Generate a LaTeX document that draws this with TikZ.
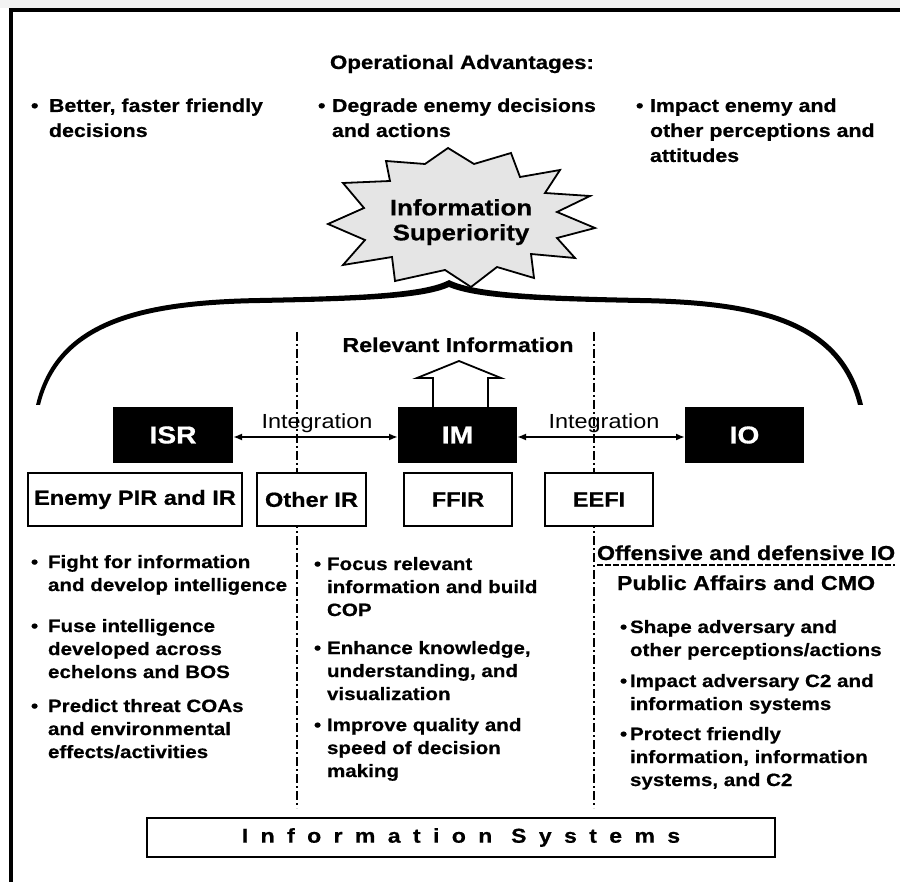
\documentclass[tikz,border=0pt]{standalone}
\usepackage{fontspec}
\setmainfont{Liberation Sans}[FakeStretch=1.15,BoldFeatures={FakeBold=0.6}]
\newfontfamily\spacedfont{Liberation Sans}[FakeStretch=1.15,LetterSpace=62,BoldFeatures={FakeBold=0.6}]
\usetikzlibrary{arrows.meta}
\definecolor{bandgray}{gray}{0.95}
\definecolor{starfill}{gray}{0.9}
% bullet line and continuation line with a hanging indent
\newcommand\bitem[2][14pt]{\rule{0pt}{.75em}\makebox[#1][l]{\textbullet}#2}
\newcommand\bcont[2][14pt]{\makebox[#1]{}#2}

\begin{document}
\begin{tikzpicture}[x=1pt,y=-1pt,
  every node/.style={inner sep=0pt,outer sep=0pt},
  heading/.style={font=\bfseries\fontsize{19.4}{23}\selectfont},
  topitem/.style={anchor=north west,align=left,font=\bfseries\fontsize{18.6}{25}\selectfont},
  lowitem/.style={anchor=north west,align=left,font=\bfseries\fontsize{17.9}{23}\selectfont},
  colhead/.style={anchor=base west,font=\bfseries\fontsize{20.2}{23}\selectfont},
  burst/.style={fill=starfill,draw=black,line width=1.8pt,line join=miter},
  bursttext/.style={anchor=north,align=center,font=\bfseries\fontsize{22.5}{25}\selectfont},
  blackbox/.style={fill=black,text=white,minimum width=120pt,minimum height=56pt,font=\bfseries\fontsize{24.5}{26}\selectfont},
  reqbox/.style={draw=black,line width=1.6pt,fill=white,minimum height=53.5pt,font=\bfseries\fontsize{20.5}{23}\selectfont},
  intlabel/.style={anchor=base,font=\fontsize{20.4}{23}\selectfont},
  intarrow/.style={line width=2pt,{Latex[length=9pt,width=7pt]}-{Latex[length=9pt,width=7pt]}},
  divider/.style={line width=1.5pt,dash pattern=on 9pt off 3pt on 2pt off 3pt},
  underdash/.style={line width=1.5pt,dash pattern=on 6pt off 2pt},
  blockarrow/.style={line width=1.8pt,line join=miter},
  sysbox/.style={draw=black,line width=1.8pt,minimum width=628pt,minimum height=39pt,font=\spacedfont\bfseries\fontsize{20}{22}\selectfont},
]
\useasboundingbox (0,0) rectangle (900,882);

% page band and frame
\fill[bandgray] (0,0) rectangle (900,8);
\draw[line width=4pt,line join=miter] (11,882) -- (11,10) -- (900,10);

% operational advantages
\node[heading,anchor=base] (adv) at (462,69) {Operational Advantages:};
\node[topitem] (adv1) at (31,98) {\bitem[18pt]{Better, faster friendly}\\\bcont[18pt]{decisions}};
\node[topitem] (adv2) at (318,98) {\bitem{Degrade enemy decisions}\\\bcont{and actions}};
\node[topitem] (adv3) at (636,98) {\bitem{Impact enemy and}\\\bcont{other perceptions and}\\\bcont{attitudes}};

% burst
\draw[burst] (448,148) -- (474,164) -- (511,153) -- (520,177) -- (560,170) -- (545,193)
  -- (590,196) -- (557,212) -- (595,228) -- (557,238) -- (575,258) -- (531,254)
  -- (534,278) -- (497,267) -- (471,287) -- (445,270) -- (395,281) -- (392,257)
  -- (343,265) -- (365,240) -- (328,224) -- (364,208) -- (343,183) -- (390,181)
  -- (386,161) -- (425,164) -- cycle;
\node[bursttext] (sup) at (461,198.5) {\rule{0pt}{.75em}Information\\Superiority};

% brace
\fill (36,405) .. controls (56,320) and (140,300) .. (260,298)
  .. controls (360,296) and (425,293) .. (449,280)
  .. controls (475,293) and (540,296) .. (640,298)
  .. controls (760,300) and (843,320) .. (863,405)
  -- (858,405) .. controls (838,324) and (758,305) .. (640,303)
  .. controls (540,301) and (478,299) .. (449,287)
  .. controls (422,299) and (360,301) .. (260,303)
  .. controls (142,305) and (60,324) .. (40,405) -- cycle;

% column dividers
\coordinate (dl-top) at (297,332);
\coordinate (dl-bot) at (297,808);
\coordinate (dr-top) at (594,332);
\coordinate (dr-bot) at (594,808);
\draw[divider] (dl-top) -- (dl-bot);
\draw[divider] (dr-top) -- (dr-bot);

\node[heading,anchor=base,font=\bfseries\fontsize{20.2}{23}\selectfont] (relinfo) at (458,352) {Relevant Information};

% functions
\node[blackbox] (isr) at (173,435) {ISR};
\node[blackbox,minimum width=119pt] (im) at (457.5,435) {IM};
\node[blackbox,minimum width=119pt] (io) at (744.5,435) {IO};

\draw[blockarrow] ([xshift=-24.5pt]im.north) -- ++(0,-29) -- ++(-16,0) -- ++(42,-17)
  -- ++(42,17) -- ++(-13,0) -- ++(0,29);

\draw[intarrow] ([yshift=-2pt]isr.east) -- ([yshift=-2pt]im.west);
\draw[intarrow] ([yshift=-2pt]im.east) -- ([yshift=-2pt]io.west);
\node[intlabel] (int1) at (317,429) {Integration};
\node[intlabel] (int2) at (604,429) {Integration};

% requirements
\node[reqbox,minimum width=214pt] (pir) at (135,499.5) {Enemy PIR and IR};
\node[reqbox,minimum width=109pt] (oir) at (311.5,499.5) {Other IR};
\node[reqbox,minimum width=108pt] (ffir) at (458,499.5) {FFIR};
\node[reqbox,minimum width=108pt] (eefi) at (599,499.5) {EEFI};

% ISR column
\node[lowitem] (l1) at (31,554.6) {\bitem[17pt]{Fight for information}\\\bcont[17pt]{and develop intelligence}};
\node[lowitem] (l2) at (31,618.6) {\bitem[17pt]{Fuse intelligence}\\\bcont[17pt]{developed across}\\\bcont[17pt]{echelons and BOS}};
\node[lowitem] (l3) at (31,698.6) {\bitem[17pt]{Predict threat COAs}\\\bcont[17pt]{and environmental}\\\bcont[17pt]{effects/activities}};

% IM column
\node[lowitem] (m1) at (314,556.6) {\bitem[13pt]{Focus relevant}\\\bcont[13pt]{information and build}\\\bcont[13pt]{COP}};
\node[lowitem] (m2) at (314,640.6) {\bitem[13pt]{Enhance knowledge,}\\\bcont[13pt]{understanding, and}\\\bcont[13pt]{visualization}};
\node[lowitem] (m3) at (314,717.6) {\bitem[13pt]{Improve quality and}\\\bcont[13pt]{speed of decision}\\\bcont[13pt]{making}};

% IO column
\node[colhead] (off) at (597,560) {Offensive and defensive IO};
\draw[underdash] ([yshift=-5pt]off.base west) -- ([yshift=-5pt]off.base east);
\node[colhead] (pa) at (617,590) {Public Affairs and CMO};
\node[lowitem] (r1) at (620,619.6) {\bitem[10pt]{Shape adversary and}\\\bcont[10pt]{other perceptions/actions}};
\node[lowitem] (r2) at (620,673.6) {\bitem[10pt]{Impact adversary C2 and}\\\bcont[10pt]{information systems}};
\node[lowitem] (r3) at (620,726.6) {\bitem[10pt]{Protect friendly}\\\bcont[10pt]{information, information}\\\bcont[10pt]{systems, and C2}};

% base
\node[sysbox] (infosys) at (461,837.5) {Information Systems};
\end{tikzpicture}
\end{document}
